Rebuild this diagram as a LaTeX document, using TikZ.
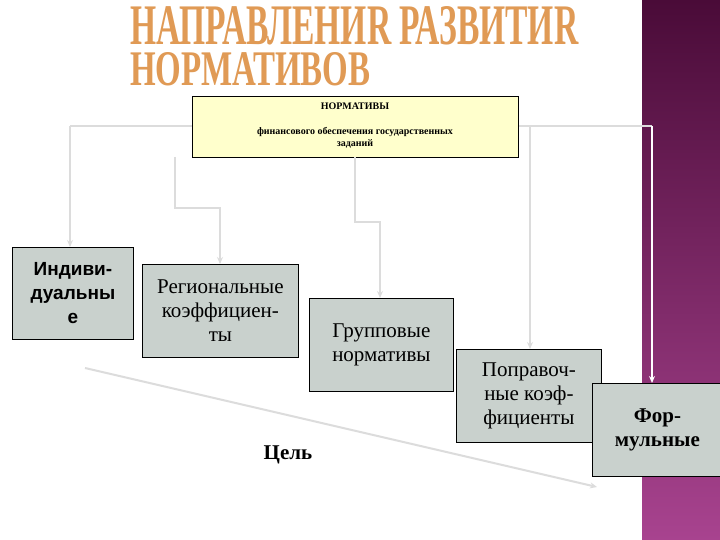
\documentclass[tikz,border=0pt]{standalone}
\usepackage{fontspec}
\setmainfont{Liberation Serif}
\newfontfamily\serf{Liberation Serif}
\newfontfamily\arialf{Liberation Sans}
\usetikzlibrary{arrows.meta}
\definecolor{boxfill}{HTML}{C9D1CD}
\definecolor{topfill}{HTML}{FFFFCC}
\definecolor{conn}{HTML}{DCDCDC}
\definecolor{purpTop}{HTML}{4A0B38}
\definecolor{purpBot}{HTML}{A8438F}
\definecolor{titleC}{HTML}{E09A55}
\tikzset{
  gbox/.style={draw=black, line width=0.8pt, fill=boxfill, align=center, inner sep=0pt},
  conline/.style={draw=conn, line width=2pt},
  conarrow/.style={conline, -{Stealth[length=7pt,width=6pt]}},
}
\begin{document}
\begin{tikzpicture}[x=1pt,y=-1pt]
\useasboundingbox (0,0) rectangle (720,540);
\fill[white] (0,0) rectangle (720,540);
% purple band
\shade[top color=purpTop, bottom color=purpBot] (642,0) rectangle (720,540);
% title
\node[anchor=north west, inner sep=0pt, text=titleC] (t1) at (130,6) {\resizebox{448pt}{38pt}{\serf\bfseries НАПРАВЛЕНИR РАЗВИТИR}};
\node[anchor=north west, inner sep=0pt, text=titleC] (t2) at (130,52) {\resizebox{240pt}{33pt}{\serf\bfseries НОРМАТИВОВ}};
% connectors (behind boxes)
\coordinate (hl) at (70,126);
\coordinate (hr) at (652,126);
\draw[conline] (hl) -- (192,126);
\draw[conline] (518,126) -- (hr);
% top box
\node[draw=black, line width=0.8pt, fill=topfill, minimum width=326pt, minimum height=61pt, anchor=north west, inner sep=0pt] (top) at (192,96) {};
\node[font=\serf\bfseries\fontsize{10}{12}\selectfont] (topt1) at (355,106) {НОРМАТИВЫ};
\node[font=\serf\bfseries\fontsize{10}{12}\selectfont, align=center] (topt2) at (355,138) {финансового обеспечения государственных\\заданий};
% boxes
\node[gbox, minimum width=121pt, minimum height=92pt, anchor=north west, font=\arialf\bfseries\fontsize{19}{24}\selectfont] (ind) at (12,247) {Индиви-\\дуальны\\е};
\node[gbox, minimum width=156pt, minimum height=93pt, anchor=north west, font=\serf\fontsize{21}{24}\selectfont] (reg) at (142,264) {Региональные\\коэффициен-\\ты};
\node[gbox, minimum width=144pt, minimum height=93pt, anchor=north west, font=\serf\fontsize{21}{24}\selectfont] (grp) at (309,298) {Групповые\\нормативы};
\node[gbox, minimum width=145pt, minimum height=93pt, anchor=north west, font=\serf\fontsize{21}{24}\selectfont] (pop) at (456,349) {Поправоч-\\ные коэф-\\фициенты};
\node[gbox, minimum width=130pt, minimum height=93pt, anchor=north west, font=\serf\bfseries\fontsize{21}{24}\selectfont] (frm) at (592,383) {Фор-\\мульные};
% arrows
\draw[conarrow] (hl) -- (70,247);
\coordinate (a2) at (175,157);
\draw[conarrow] (a2) -- (175,208) -- (220,208) -- (220,264);
\coordinate (a3) at (355,157);
\draw[conarrow] (a3) -- (355,222) -- (380,222) -- (380,298);
\draw[conarrow] (530,126) -- (530,349);
\draw[white, line width=2pt, -{Stealth[length=7pt,width=6pt]}] (hr) -- (652,383);
% goal arrow
\coordinate (g1) at (85,368);
\coordinate (g2) at (597,487);
\draw[conarrow] (g1) -- (g2);
\node[font=\serf\bfseries\fontsize{21}{24}\selectfont] (goal) at (288,455) {Цель};
\end{tikzpicture}
\end{document}
